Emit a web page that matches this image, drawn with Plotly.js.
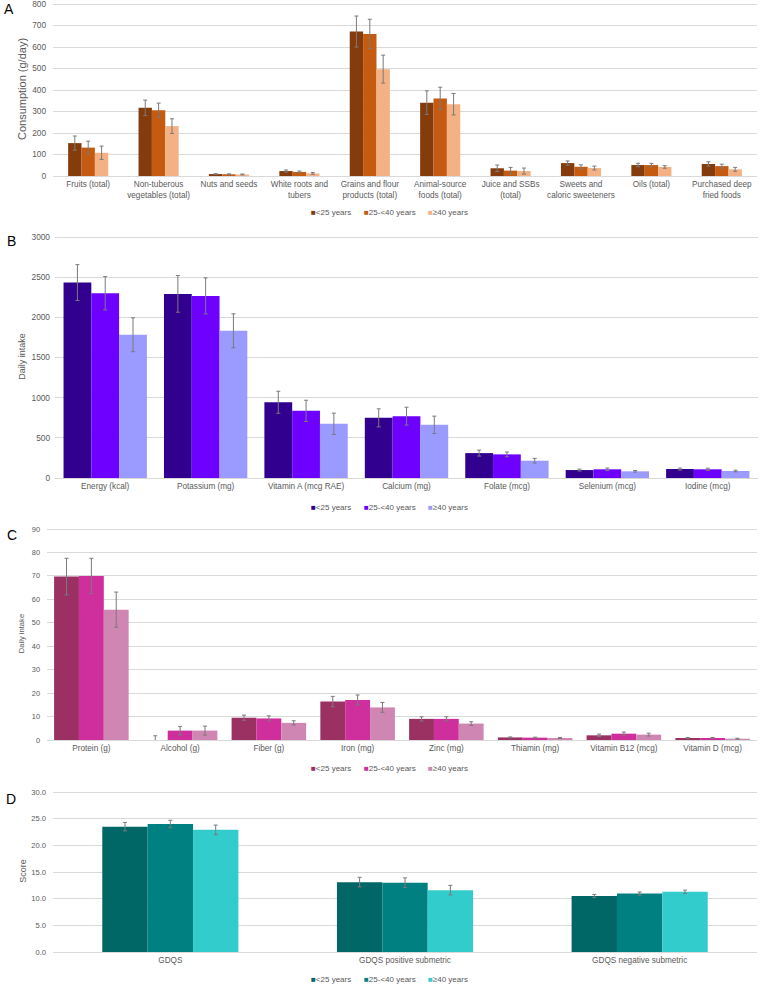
<!DOCTYPE html>
<html>
<head>
<meta charset="utf-8">
<script src="https://cdn.plot.ly/plotly-3.0.1.min.js"></script>
<style>
  html, body { margin: 0; padding: 0; background: #ffffff; }
  #chart { width: 761px; height: 985px; }
</style>
</head>
<body>
<div id="chart"></div>
<script>
// Age groups shared by every panel
const ageGroups = ['<25 years', '25-<40 years', '≥40 years'];
const ageGroupLabels = ['&lt;25 years', '25-&lt;40 years', '≥40 years'];

// Panel A: food group consumption (g/day), mean and error
const foodGroups = ['Fruits (total)', 'Non-tuberous<br>vegetables (total)', 'Nuts and seeds',
  'White roots and<br>tubers', 'Grains and flour<br>products (total)', 'Animal-source<br>foods (total)',
  'Juice and SSBs<br>(total)', 'Sweets and<br>caloric sweeteners', 'Oils (total)', 'Purchased deep<br>fried foods'];
const foodUnder25 = [153, 317, 9, 23, 672, 341, 36, 60, 51, 56];
const foodUnder25Err = [33, 36, 2, 5, 72, 55, 15, 10, 8, 10];
const food25to40 = [132, 306, 8, 19, 661, 361, 25, 43, 51, 46];
const food25to40Err = [30, 33, 2, 4, 68, 52, 15, 9, 8, 9];
const food40plus = [108, 232, 7, 12, 497, 334, 23, 37, 42, 31];
const food40plusErr = [31, 34, 2, 4, 65, 50, 14, 9, 6, 9];

// Panel B: energy and micronutrient daily intake
const nutrientsB = ['Energy (kcal)', 'Potassium (mg)', 'Vitamin A (mcg RAE)', 'Calcium (mg)',
  'Folate (mcg)', 'Selenium (mcg)', 'Iodine (mcg)'];
const nutrBUnder25 = [2433, 2292, 943, 749, 310, 99, 112];
const nutrBUnder25Err = [223, 228, 137, 112, 37, 12, 12];
const nutrB25to40 = [2300, 2267, 836, 770, 294, 108, 108];
const nutrB25to40Err = [207, 224, 132, 111, 29, 16, 14];
const nutrB40plus = [1783, 1833, 674, 662, 215, 83, 87];
const nutrB40plusErr = [211, 211, 133, 108, 29, 10, 10];

// Panel C: macronutrient and micronutrient daily intake
const nutrientsC = ['Protein (g)', 'Alcohol (g)', 'Fiber (g)', 'Iron (mg)', 'Zinc (mg)',
  'Thiamin (mg)', 'Vitamin B12 (mcg)', 'Vitamin D (mcg)'];
const nutrCUnder25 = [69.7, 0, 9.5, 16.4, 9.0, 1.1, 2.0, 0.85];
const nutrCUnder25Err = [7.8, 1.8, 1.1, 2.2, 0.9, 0.2, 0.5, 0.2];
const nutrC25to40 = [70.0, 4.0, 9.2, 17.1, 9.0, 1.0, 2.7, 0.85];
const nutrC25to40Err = [7.5, 1.8, 1.1, 2.1, 0.9, 0.2, 0.7, 0.2];
const nutrC40plus = [55.6, 4.0, 7.3, 13.9, 7.0, 0.85, 2.3, 0.55];
const nutrC40plusErr = [7.5, 1.9, 0.9, 2.1, 0.8, 0.2, 0.6, 0.2];

// Panel D: Global Diet Quality Score
const gdqsMetrics = ['GDQS', 'GDQS positive submetric', 'GDQS negative submetric'];
const gdqsUnder25 = [23.5, 13.1, 10.5];
const gdqsUnder25Err = [0.8, 0.9, 0.3];
const gdqs25to40 = [24.0, 13.0, 10.95];
const gdqs25to40Err = [0.7, 0.9, 0.3];
const gdqs40plus = [22.9, 11.6, 11.3];
const gdqs40plusErr = [0.9, 0.9, 0.3];

const W = 761, H = 985;
const FONT = '"Liberation Sans", Arial, sans-serif';
const TEXT_GREY = '#595959';
const GRID = '#D9D9D9';
const ERR_GREY = '#7A7A7A';
const LEGEND_X = [309, 362, 426];
// headroom above the top gridline so it (and its label) stays inside the plot area
const HEAD_PX = 2;

// page pixels -> paper fractions
const fx = x => x / W;
const fy = y => 1 - y / H;

// panel layout: plot box in page px [left, right, top gridline, baseline]
const panels = [
  { letter: 'A', letterPos: [2, 9], box: [53, 757, 4, 176], legendY: 213,
    cats: foodGroups,
    series: [[foodUnder25, foodUnder25Err], [food25to40, food25to40Err], [food40plus, food40plusErr]],
    colors: ['#843C0C', '#C55A11', '#F4B183'], groupWidth: 0.57,
    yrange: [0, 800], dtick: 100, tickformat: '', standoff: 6, tickSize: 8.3,
    ytitle: 'Consumption (g/day)', titleSize: 11, titleStandoff: 3 },
  { letter: 'B', letterPos: [5, 241], box: [55, 758, 237, 478], legendY: 507,
    cats: nutrientsB,
    series: [[nutrBUnder25, nutrBUnder25Err], [nutrB25to40, nutrB25to40Err], [nutrB40plus, nutrB40plusErr]],
    colors: ['#31008F', '#6E00FF', '#9B9BFF'], groupWidth: 0.83,
    yrange: [0, 3000], dtick: 500, tickformat: '', standoff: 4, tickSize: 8.3,
    ytitle: 'Daily intake', titleSize: 9, titleStandoff: 4 },
  { letter: 'C', letterPos: [5, 535], box: [47, 757, 529, 740], legendY: 768,
    cats: nutrientsC,
    series: [[nutrCUnder25, nutrCUnder25Err], [nutrC25to40, nutrC25to40Err], [nutrC40plus, nutrC40plusErr]],
    colors: ['#9B3162', '#CF2F9C', '#D086B2'], groupWidth: 0.84,
    yrange: [0, 90], dtick: 10, tickformat: '', standoff: 6, tickSize: 7.4,
    ytitle: 'Daily intake', titleSize: 7.6, titleStandoff: 6 },
  { letter: 'D', letterPos: [4, 799], box: [53, 757, 792, 952], legendY: 979,
    cats: gdqsMetrics,
    series: [[gdqsUnder25, gdqsUnder25Err], [gdqs25to40, gdqs25to40Err], [gdqs40plus, gdqs40plusErr]],
    colors: ['#006766', '#008080', '#33CCCC'], groupWidth: 0.58,
    yrange: [0, 30], dtick: 5, tickformat: '.1f', standoff: 6, tickSize: 7.6,
    ytitle: 'Score', titleSize: 9, titleStandoff: 3 }
];

const traces = [];
const annotations = [];
const layout = {
  width: W, height: H,
  margin: { l: 0, r: 0, t: 0, b: 0, pad: 0 },
  paper_bgcolor: '#ffffff', plot_bgcolor: '#ffffff',
  barmode: 'overlay', showlegend: false,
  font: { family: FONT, color: TEXT_GREY },
  annotations: annotations
};

panels.forEach((p, k) => {
  const sfx = k === 0 ? '' : String(k + 1);
  const xa = 'x' + sfx, ya = 'y' + sfx;
  const barW = p.groupWidth / 3;
  const span = p.yrange[1] - p.yrange[0];
  const plotPx = p.box[3] - p.box[2];
  const rangeTop = p.yrange[1] + span * HEAD_PX / plotPx;

  p.series.forEach((s, i) => {
    traces.push({
      type: 'bar', name: ageGroups[i], x: p.cats, y: s[0],
      xaxis: xa, yaxis: ya,
      width: barW, offset: -p.groupWidth / 2 + i * barW,
      marker: { color: p.colors[i], line: { width: 0 } },
      error_y: { type: 'data', array: s[1], visible: true, color: ERR_GREY, thickness: 1, width: 2 },
      hoverinfo: 'x+y+name'
    });
  });

  layout['xaxis' + sfx] = {
    domain: [fx(p.box[0]), fx(p.box[1])], anchor: ya, type: 'category',
    showgrid: false, showline: true, linecolor: GRID, linewidth: 1, zeroline: false,
    ticks: '', tickfont: { family: FONT, size: 8.2, color: TEXT_GREY },
    automargin: false, fixedrange: true
  };
  layout['yaxis' + sfx] = {
    domain: [fy(p.box[3]), fy(p.box[2] - HEAD_PX)], anchor: xa,
    range: [p.yrange[0], rangeTop], tickmode: 'linear', tick0: 0, dtick: p.dtick, tickformat: p.tickformat,
    showgrid: true, gridcolor: GRID, gridwidth: 1, zeroline: false, showline: false,
    ticks: '', ticklabelstandoff: p.standoff, ticklabeloverflow: 'allow',
    tickfont: { family: FONT, size: p.tickSize, color: TEXT_GREY },
    title: { text: p.ytitle, standoff: p.titleStandoff, font: { family: FONT, size: p.titleSize, color: TEXT_GREY } },
    automargin: false, fixedrange: true
  };

  // panel letter
  annotations.push({
    text: p.letter, xref: 'paper', yref: 'paper',
    x: fx(p.letterPos[0]), y: fy(p.letterPos[1]), xanchor: 'left', yanchor: 'middle',
    showarrow: false, font: { family: FONT, size: 14, color: '#000000' }
  });
  // legend: coloured square followed by the age group
  ageGroupLabels.forEach((lab, i) => {
    annotations.push({
      text: '<span style="color:' + p.colors[i] + '">■</span>' + lab,
      xref: 'paper', yref: 'paper', x: fx(LEGEND_X[i]), y: fy(p.legendY),
      xanchor: 'left', yanchor: 'middle', showarrow: false,
      font: { family: FONT, size: 8, color: TEXT_GREY }
    });
  });
});

Plotly.newPlot('chart', traces, layout, { displayModeBar: false, staticPlot: true });
</script>
</body>
</html>
